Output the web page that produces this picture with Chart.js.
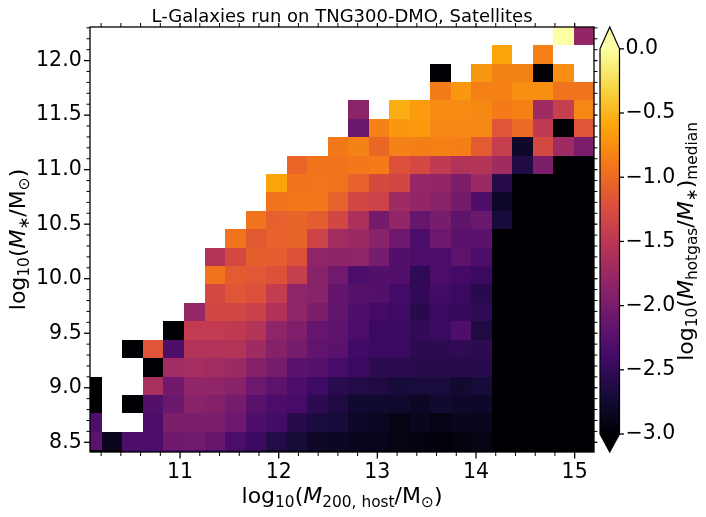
<!DOCTYPE html>
<html>
<head>
<meta charset="utf-8">
<script src="https://cdn.jsdelivr.net/npm/chart.js@4.4.1/dist/chart.umd.min.js"></script>
<style>
html,body{margin:0;padding:0;background:#ffffff;}
#wrap{width:706px;height:517px;position:relative;}
</style>
</head>
<body>
<div id="wrap"><canvas id="c" width="706" height="517"></canvas></div>
<script>
// ---------- DATA ----------
// bin edges of the 2D histogram
const xEdges = [10.000,10.208,10.416,10.624,10.832,11.040,11.248,11.456,11.664,11.872,12.080,12.288,12.496,12.704,12.912,13.120,13.328,13.536,13.744,13.952,14.160,14.368,14.576,14.784,14.992,15.200];
const yEdges = [8.259,8.428,8.597,8.765,8.934,9.103,9.272,9.441,9.609,9.778,9.947,10.116,10.285,10.453,10.622,10.791,10.960,11.129,11.297,11.466,11.635,11.804,11.973,12.141,12.310];
// axis ranges
const xRange = [10.087, 15.196];
const yRange = [8.411, 12.308];
const cbRange = [-3.14, 0.17];
const cbNorm = [-3.0, 0.0];
// tick labels
const xTicks = [11, 12, 13, 14, 15];
const xTickLabels = ['11','12','13','14','15'];
const yTicks = [8.5, 9.0, 9.5, 10.0, 10.5, 11.0, 11.5, 12.0];
const yTickLabels = ['8.5','9.0','9.5','10.0','10.5','11.0','11.5','12.0'];
const cbTicks = [-3.0, -2.5, -2.0, -1.5, -1.0, -0.5, 0.0];
const cbTickLabels = ['\u22123.0','\u22122.5','\u22122.0','\u22121.5','\u22121.0','\u22120.5','0.0'];

// log10(M_hotgas/M_*)_median per cell; row00 = lowest stellar-mass bin; null = empty; -4 = no hot gas (below colour range)
const row00 = [-2.97,-2.97,-2.45,-2.35,-2.30,-2.35,-2.40,-2.50,-2.60,-2.75,-2.80,-2.88,-2.90,-2.93,-2.95,-2.96,-2.96,-2.98,-2.97,-2.97,-4,-4,-4,-4,-4];
const row01 = [-2.21,-2.85,-2.31,-2.33,-2.05,-2.04,-2.13,-2.33,-2.45,-2.62,-2.70,-2.79,-2.82,-2.86,-2.87,-2.92,-2.94,-2.97,-2.94,-2.92,-4,-4,-4,-4,-4];
const row02 = [-2.31,null,null,-2.33,-1.96,-1.96,-1.98,-2.08,-2.31,-2.38,-2.57,-2.66,-2.70,-2.80,-2.83,-2.91,-2.85,-2.91,-2.85,-2.86,-4,-4,-4,-4,-4];
const row03 = [-4,null,-4,-2.27,-2.10,-1.88,-1.91,-2.01,-2.23,-2.33,-2.36,-2.55,-2.64,-2.75,-2.75,-2.77,-2.82,-2.75,-2.78,-2.78,-4,-4,-4,-4,-4];
const row04 = [-4,null,null,-1.65,-2.05,-1.82,-1.82,-1.87,-2.08,-2.20,-2.32,-2.42,-2.56,-2.62,-2.64,-2.70,-2.68,-2.68,-2.75,-2.70,-4,-4,-4,-4,-4];
const row05 = [null,null,null,-4,-1.70,-1.67,-1.70,-1.74,-1.90,-2.01,-2.21,-2.25,-2.36,-2.45,-2.55,-2.55,-2.58,-2.58,-2.57,-2.57,-4,-4,-4,-4,-4];
const row06 = [null,null,-4,-1.17,-2.31,-1.57,-1.57,-1.56,-1.72,-1.90,-2.01,-2.17,-2.22,-2.40,-2.45,-2.45,-2.55,-2.55,-2.52,-2.55,-4,-4,-4,-4,-4];
const row07 = [null,null,null,null,-4,-1.45,-1.45,-1.47,-1.56,-1.83,-1.95,-2.14,-2.20,-2.33,-2.45,-2.45,-2.50,-2.46,-2.31,-2.64,-4,-4,-4,-4,-4];
const row08 = [null,null,null,null,null,-1.79,-1.32,-1.33,-1.37,-1.58,-1.83,-1.97,-2.15,-2.30,-2.39,-2.42,-2.57,-2.45,-2.47,-2.52,-4,-4,-4,-4,-4];
const row09 = [null,null,null,null,null,null,-1.29,-1.17,-1.20,-1.44,-1.83,-1.87,-2.15,-2.25,-2.27,-2.39,-2.50,-2.39,-2.45,-2.57,-4,-4,-4,-4,-4];
const row10 = [null,null,null,null,null,null,-0.93,-1.12,-1.15,-1.20,-1.41,-1.87,-2.04,-2.32,-2.27,-2.28,-2.52,-2.33,-2.39,-2.45,-4,-4,-4,-4,-4];
const row11 = [null,null,null,null,null,null,-1.56,-1.29,-1.09,-1.10,-1.20,-1.83,-1.84,-1.83,-2.01,-2.28,-2.33,-2.33,-2.20,-2.33,-4,-4,-4,-4,-4];
const row12 = [null,null,null,null,null,null,null,-0.93,-1.14,-1.07,-1.05,-1.35,-1.69,-1.75,-1.87,-2.07,-2.33,-2.08,-2.21,-2.21,-4,-4,-4,-4,-4];
const row13 = [null,null,null,null,null,null,null,null,-0.93,-1.08,-1.05,-1.11,-1.32,-1.62,-2.03,-1.80,-2.13,-2.00,-2.18,-2.10,-2.69,-4,-4,-4,-4];
const row14 = [null,null,null,null,null,null,null,null,null,-0.93,-0.90,-0.90,-1.06,-1.31,-1.36,-1.72,-1.80,-1.88,-2.02,-2.30,-2.78,-4,-4,-4,-4];
const row15 = [null,null,null,null,null,null,null,null,null,-0.60,-0.93,-0.92,-0.93,-1.07,-1.28,-1.31,-1.78,-1.81,-1.97,-1.75,-2.57,-4,-4,-4,-4];
const row16 = [null,null,null,null,null,null,null,null,null,null,-1.04,-0.93,-0.93,-0.90,-0.88,-1.20,-1.29,-1.46,-1.57,-1.56,-1.71,-2.63,-1.96,-4,-4];
const row17 = [null,null,null,null,null,null,null,null,null,null,null,null,-0.90,-0.83,-1.02,-0.83,-0.86,-0.85,-0.86,-1.12,-1.42,-2.78,-1.30,-1.72,-1.98];
const row18 = [null,null,null,null,null,null,null,null,null,null,null,null,null,-2.10,-0.83,-0.69,-0.67,-0.79,-0.79,-0.79,-1.17,-1.01,-1.47,-4,-1.17];
const row19 = [null,null,null,null,null,null,null,null,null,null,null,null,null,-1.86,null,-0.55,-0.66,-0.77,-0.77,-0.79,-0.88,-0.84,-1.72,-1.41,-0.80];
const row20 = [null,null,null,null,null,null,null,null,null,null,null,null,null,null,null,null,null,-0.87,-0.69,-0.85,-0.85,-0.75,-0.75,-0.94,-0.94];
const row21 = [null,null,null,null,null,null,null,null,null,null,null,null,null,null,null,null,null,-4,null,-0.70,-0.83,-0.83,-4,-0.75,null];
const row22 = [null,null,null,null,null,null,null,null,null,null,null,null,null,null,null,null,null,null,null,null,-0.60,null,-0.85,null,null];
const row23 = [null,null,null,null,null,null,null,null,null,null,null,null,null,null,null,null,null,null,null,null,null,null,null,0.10,-1.80];
const rows = [row00,row01,row02,row03,row04,row05,row06,row07,row08,row09,row10,row11,row12,row13,row14,row15,row16,row17,row18,row19,row20,row21,row22,row23];

const titleText = 'L-Galaxies run on TNG300-DMO, Satellites';

// ---------- COLOUR MAP (inferno) ----------
const infernoStops = ['#000004','#160b39','#420a68','#6a176e','#932667','#bc3754','#dd513a','#f37819','#fca50a','#f6d746','#fcffa4'];
const underColor = '#000004', overColor = '#fcffa4';
function hexToRgb(h){return [parseInt(h.slice(1,3),16),parseInt(h.slice(3,5),16),parseInt(h.slice(5,7),16)];}
const stopRgb = infernoStops.map(hexToRgb);
function inferno(t){
  t = Math.max(0, Math.min(1, t));
  const p = t * 10; const i = Math.min(9, Math.floor(p)); const f = p - i;
  const a = stopRgb[i], b = stopRgb[i+1];
  return 'rgb(' + Math.round(a[0]+(b[0]-a[0])*f) + ',' + Math.round(a[1]+(b[1]-a[1])*f) + ',' + Math.round(a[2]+(b[2]-a[2])*f) + ')';
}
function colorFor(v){
  if (v < cbNorm[0]) return underColor;
  if (v > cbNorm[1]) return overColor;
  return inferno((v - cbNorm[0]) / (cbNorm[1] - cbNorm[0]));
}

// points at cell centres (for the library dataset)
const cellPoints = [];
rows.forEach((row, r) => row.forEach((v, c) => {
  if (v !== null) cellPoints.push({x:(xEdges[c]+xEdges[c+1])/2, y:(yEdges[r]+yEdges[r+1])/2, v:v});
}));

// ---------- RICH TEXT ----------
const FAM = '"DejaVu Sans", sans-serif';
function segFont(s){ return (s.it ? 'italic ' : '') + s.size + 'px ' + FAM; }
function drawRich(ctx, segs, x, y, rot){
  ctx.save();
  ctx.translate(x, y); ctx.rotate(rot);
  ctx.textBaseline = 'alphabetic'; ctx.textAlign = 'left'; ctx.fillStyle = '#000';
  let w = 0;
  segs.forEach(s => { ctx.font = segFont(s); s.w = ctx.measureText(s.t).width; w += s.w + (s.kern||0); });
  let cx = -w/2;
  segs.forEach(s => { ctx.font = segFont(s); ctx.fillText(s.t, cx, s.dy||0); cx += s.w + (s.kern||0); });
  ctx.restore();
}
const B = 22, S = 15.4, D = 3.5;
const xTitle = [
  {t:'log',size:B},{t:'10',size:S,dy:D},{t:'(',size:B},{t:'M',size:B,it:true},
  {t:'200, host',size:S,dy:D},{t:'/',size:B},{t:'M',size:B},{t:'\u2299',size:S,dy:D},{t:')',size:B}];
const yTitle = [
  {t:'log',size:B},{t:'10',size:S,dy:D},{t:'(',size:B},{t:'M',size:B,it:true},
  {t:'\u2217',size:S,dy:D},{t:'/',size:B},{t:'M',size:B},{t:'\u2299',size:S,dy:D},{t:')',size:B}];
const cbTitle = [
  {t:'log',size:B},{t:'10',size:S,dy:D},{t:'(',size:B},{t:'M',size:B,it:true},
  {t:'hotgas',size:S,dy:D},{t:'/',size:B},{t:'M',size:B,it:true},{t:'\u2217',size:S,dy:D},
  {t:')',size:B},{t:'median',size:S,dy:D}];

// ---------- PLUGIN ----------
const heatPlugin = {
  id: 'heat',
  beforeDatasetsDraw(chart){
    const ctx = chart.ctx, xs = chart.scales.x, ys = chart.scales.y, a = chart.chartArea;
    ctx.save();
    ctx.beginPath(); ctx.rect(a.left, a.top, a.right - a.left, a.bottom - a.top); ctx.clip();
    rows.forEach((row, r) => row.forEach((v, c) => {
      if (v === null) return;
      const l = Math.round(xs.getPixelForValue(xEdges[c]));
      const rr = Math.round(xs.getPixelForValue(xEdges[c+1]));
      const t = Math.round(ys.getPixelForValue(yEdges[r+1]));
      const b = Math.round(ys.getPixelForValue(yEdges[r]));
      ctx.fillStyle = colorFor(v);
      ctx.fillRect(l, t, rr - l, b - t);
    }));
    ctx.restore();
  },
  afterDraw(chart){
    const ctx = chart.ctx, xs = chart.scales.x, ys = chart.scales.y, cs = chart.scales.cb, a = chart.chartArea;
    ctx.save();
    ctx.strokeStyle = '#000';
    function line(x1,y1,x2,y2,w){ ctx.lineWidth = w; ctx.beginPath(); ctx.moveTo(x1,y1); ctx.lineTo(x2,y2); ctx.stroke(); }
    for (let k = Math.ceil(xs.min*5); k <= Math.floor(xs.max*5); k++){
      const px = xs.getPixelForValue(k/5); const major = (k % 5 === 0);
      line(px, a.bottom, px, a.bottom + (major ? 6.5 : 4), major ? 1.3 : 1.0);
      line(px, a.top, px, a.top - 4, major ? 1.3 : 1.0);
    }
    for (let k = Math.ceil(ys.min*10); k <= Math.floor(ys.max*10); k++){
      const py = ys.getPixelForValue(k/10); const major = (k % 5 === 0);
      line(a.left, py, a.left - (major ? 6 : 3.5), py, major ? 1.3 : 1.0);
      line(a.right, py, a.right + 3.5, py, major ? 1.3 : 1.0);
    }
    ctx.lineWidth = 1.3;
    ctx.strokeRect(a.left, a.top, a.right - a.left, a.bottom - a.top);

    // colour bar
    const bx0 = 600, bx1 = 619.5, bxm = (bx0 + bx1) / 2;
    const yTop = cs.getPixelForValue(cbNorm[1]), yBot = cs.getPixelForValue(cbNorm[0]);
    const g = ctx.createLinearGradient(0, yBot, 0, yTop);
    infernoStops.forEach((col, i) => g.addColorStop(i / 10, col));
    ctx.fillStyle = g;
    ctx.fillRect(bx0, yTop, bx1 - bx0, yBot - yTop);
    ctx.fillStyle = overColor;
    ctx.beginPath(); ctx.moveTo(bx0, yTop + 0.5); ctx.lineTo(bxm, a.top); ctx.lineTo(bx1, yTop + 0.5); ctx.closePath(); ctx.fill();
    ctx.fillStyle = underColor;
    ctx.beginPath(); ctx.moveTo(bx0, yBot - 0.5); ctx.lineTo(bxm, a.bottom); ctx.lineTo(bx1, yBot - 0.5); ctx.closePath(); ctx.fill();
    ctx.lineWidth = 1.2; ctx.strokeStyle = '#000';
    ctx.beginPath();
    ctx.moveTo(bx0, yTop); ctx.lineTo(bxm, a.top); ctx.lineTo(bx1, yTop);
    ctx.lineTo(bx1, yBot); ctx.lineTo(bxm, a.bottom); ctx.lineTo(bx0, yBot); ctx.closePath();
    ctx.stroke();
    cbTicks.forEach(v => { const py = cs.getPixelForValue(v); line(bx1, py, bx1 + 4.5, py, 1.3); });

    // titles
    ctx.fillStyle = '#000';
    ctx.font = '18px ' + FAM; ctx.textAlign = 'center'; ctx.textBaseline = 'alphabetic';
    ctx.fillText(titleText, (a.left + a.right) / 2, 22);
    drawRich(ctx, xTitle, (a.left + a.right) / 2, 503, 0);
    drawRich(ctx, yTitle, 25, (a.top + a.bottom) / 2, -Math.PI / 2);
    drawRich(ctx, cbTitle, 693, (yTop + yBot) / 2, -Math.PI / 2);
    ctx.restore();
  }
};

function noPad(s){ s.paddingTop = 0; s.paddingBottom = 0; s.paddingLeft = 0; s.paddingRight = 0; }
const tickFont = {family: 'DejaVu Sans', size: 20.5};
new Chart(document.getElementById('c').getContext('2d'), {
  type: 'scatter',
  data: { datasets: [{ data: cellPoints, pointRadius: 0, pointHoverRadius: 0, showLine: false }] },
  options: {
    responsive: false,
    animation: false,
    events: [],
    layout: { padding: { top: 27, left: 0, right: 0, bottom: 0 } },
    plugins: { legend: { display: false }, tooltip: { enabled: false }, title: { display: false } },
    scales: {
      x: {
        type: 'linear', position: 'bottom', min: xRange[0], max: xRange[1],
        grid: { display: false, drawTicks: false }, border: { display: false },
        ticks: { font: tickFont, color: '#000', padding: 8, maxRotation: 0, autoSkip: false,
                 callback: (v) => { const i = xTicks.indexOf(v); return i >= 0 ? xTickLabels[i] : ''; } },
        afterBuildTicks: (s) => { s.ticks = xTicks.map(v => ({ value: v })); },
        afterFit: (s) => { s.height = 65; noPad(s); }
      },
      y: {
        type: 'linear', position: 'left', min: yRange[0], max: yRange[1],
        grid: { display: false, drawTicks: false }, border: { display: false },
        ticks: { font: tickFont, color: '#000', padding: 8.3, autoSkip: false,
                 callback: (v) => { const i = yTicks.findIndex(t => Math.abs(t - v) < 1e-6); return i >= 0 ? yTickLabels[i] : ''; } },
        afterBuildTicks: (s) => { s.ticks = yTicks.map(v => ({ value: v })); },
        afterFit: (s) => { s.width = 90; noPad(s); }
      },
      cb: {
        type: 'linear', axis: 'y', position: 'right', min: cbRange[0], max: cbRange[1],
        grid: { display: false, drawTicks: false }, border: { display: false },
        ticks: { font: tickFont, color: '#000', padding: 31.5, autoSkip: false,
                 callback: (v) => { const i = cbTicks.findIndex(t => Math.abs(t - v) < 1e-6); return i >= 0 ? cbTickLabels[i] : ''; } },
        afterBuildTicks: (s) => { s.ticks = cbTicks.map(v => ({ value: v })); },
        afterFit: (s) => { s.width = 112; noPad(s); }
      }
    }
  },
  plugins: [heatPlugin]
});
</script>
</body>
</html>
